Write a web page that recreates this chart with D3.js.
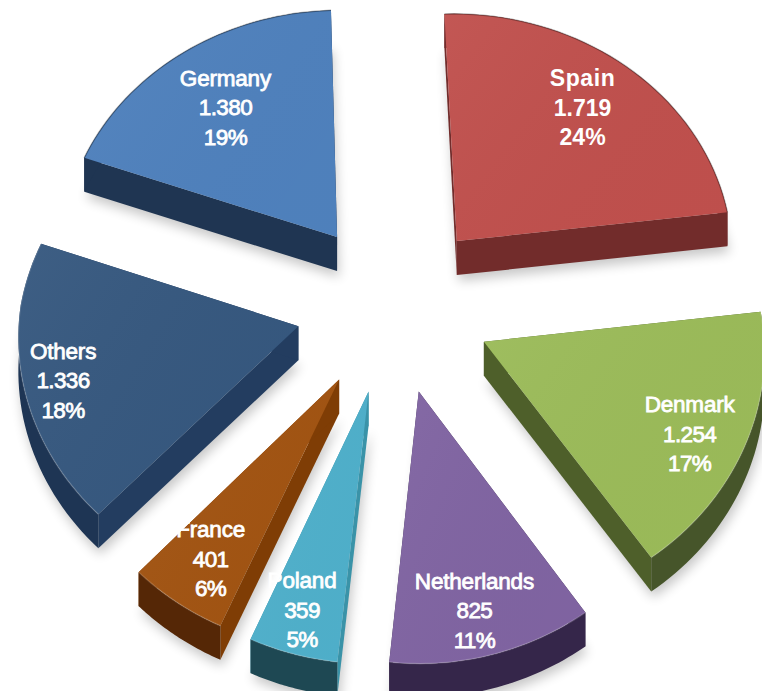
<!DOCTYPE html>
<html><head><meta charset="utf-8">
<script src="https://cdn.jsdelivr.net/npm/d3@7"></script>
<style>html,body{margin:0;padding:0;background:#fff}svg{display:block}</style>
</head><body><svg id="c" width="762" height="691"></svg>
<script>
const categories = ["Spain","Denmark","Netherlands","Poland","France","Others","Germany"];
const values = [1719,1254,825,359,401,1336,1380];
const topColors = ["#c0504d","#9bbb59","#8064a2","#4fb0cb","#a25412","#36587f","#4f81bd"];
const edgeColors = ["#722c2b","#4e5f2a","#3f3151","#3a93a8","#7f3d05","#233d60","#1f3552"];
const rimColors = ["#722c2b","#46552a","#35264a","#1e4853","#552706","#1e3554","#1f3552"];
const labelReach = [312,322,333,330,322,339,294];
const labelNudgeX = [-5,-3,-6,-4,1,2,-3];
const labelNudgeY = [1,7,-2,1,1,3,1];
const drawOrder = [6,0,5,1,4,3,2];

const W=762,H=691,cx=394,cy=306,R=279,E=98,K=0.885,P=0.0002,depth=34;
const rad=d3.scaleLinear().domain([0,360]).range([0,2*Math.PI]);
const svg=d3.select("#c");
const defs=svg.append("defs");
const f=defs.append("filter").attr("id","sh").attr("x","-20%").attr("y","-20%").attr("width","140%").attr("height","140%");
f.append("feGaussianBlur").attr("stdDeviation",6);
const lg=defs.append("linearGradient").attr("id","sheen").attr("x1",0).attr("y1",0).attr("x2",1).attr("y2",.6);
lg.append("stop").attr("offset",0).attr("stop-color","#fff").attr("stop-opacity",.04);
lg.append("stop").attr("offset",1).attr("stop-color","#000").attr("stop-opacity",.01);
const fmtLocale=d3.formatLocale({decimal:",",thousands:".",grouping:[3],currency:["",""]});
const fmtV=fmtLocale.format(",d"),fmtP=d3.format(".0%");
const total=d3.sum(values);
const arcs=d3.pie().sort(null).startAngle(rad(-2)).endAngle(rad(358))(values);

function project(X,Y){
  const s=1/(1-P*Y);
  const sx=Y>0?1/(1-0.00012*Y):s;
  return [cx+X*sx,cy+K*Y*s];
}
const drop=(p,s=depth)=>[p[0],p[1]+s];
const line=d3.line();
function wedge(d){
  const mid=(d.startAngle+d.endAngle)/2;
  const ox=E*Math.sin(mid),oy=-E*Math.cos(mid);
  const rim=d3.range(0,41).map(i=>{
    const a=d.startAngle+(d.endAngle-d.startAngle)*i/40;
    return project(ox+R*Math.sin(a),oy-R*Math.cos(a));
  });
  return {mid,apex:project(ox,oy),rim};
}
const slices=arcs.map((d,i)=>({i,...wedge(d)}));

drawOrder.forEach(i=>{
  const s=slices[i],g=svg.append("g");
  const outline=[s.apex,...s.rim];
  g.append("path").attr("d",line(outline.map(p=>[p[0]+2,p[1]+depth+6]))+"Z").attr("fill","#000").attr("opacity",.22).attr("filter","url(#sh)");
  const first=s.rim[0],last=s.rim[s.rim.length-1];
  [first,last].forEach(p=>{
    g.append("path").attr("d",line([s.apex,p,drop(p),drop(s.apex)])+"Z").attr("fill",edgeColors[i]);
  });
  g.append("path").attr("d",line([...s.rim,...s.rim.map(p=>drop(p)).reverse()])+"Z").attr("fill",rimColors[i]);
  g.append("path").attr("d",line(outline)+"Z").attr("fill",topColors[i]);
  g.append("path").attr("d",line(outline)+"Z").attr("fill","url(#sheen)");
  const front=s.rim[20][1]>cy+60;
  g.append("path").attr("d",line(s.rim)).attr("fill","none")
    .attr("stroke",front?"#fff":"#000").attr("stroke-opacity",front?.16:.3).attr("stroke-width",1.5);
});

slices.forEach(s=>{
  const r=labelReach[s.i];
  const p=project(r*Math.sin(s.mid),-r*Math.cos(s.mid));
  const isSpain=categories[s.i]==="Spain";
  const t=svg.append("text").attr("text-anchor","middle").attr("fill","#fff")
    .attr("font-family","'Liberation Sans',Arial,sans-serif")
    .attr("font-size",isSpain?23:22.5).attr("font-weight",isSpain?"bold":"normal")
    .attr("stroke","#fff").attr("stroke-width",isSpain?0:.8);
  [categories[s.i],fmtV(values[s.i]),fmtP(values[s.i]/total)].forEach((txt,j)=>{
    t.append("tspan").attr("x",p[0]+labelNudgeX[s.i]).attr("y",p[1]+labelNudgeY[s.i]+(j-1)*29.5+9)
      .attr("letter-spacing",isSpain?(j===0?.6:0):(j===0?-.2:-.6)).text(txt);
  });
});
</script></body></html>
